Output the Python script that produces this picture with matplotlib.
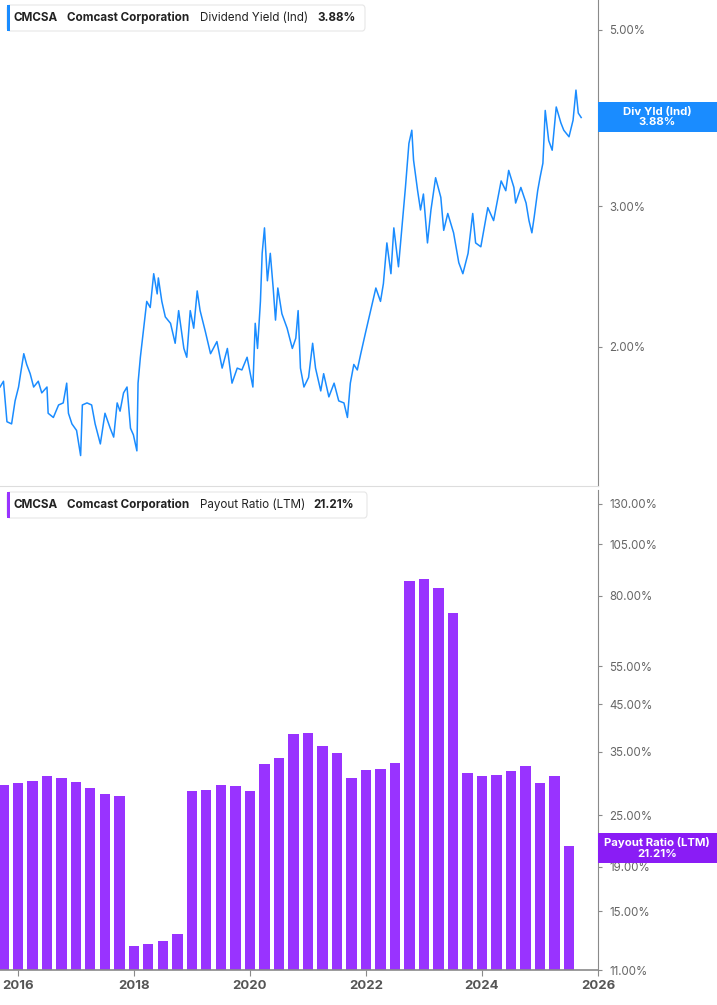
import matplotlib
matplotlib.use("Agg")
import matplotlib.pyplot as plt
from matplotlib.patches import FancyBboxPatch, Rectangle
import pandas as pd

plt.rcParams["font.family"] = "Inter"

# Dividend yield (%) — decimal year / value
yield_dates = [2015.69, 2015.75, 2015.81, 2015.89, 2015.95, 2016.01, 2016.05, 2016.10, 2016.15, 2016.21,
               2016.27, 2016.35, 2016.41, 2016.50, 2016.52, 2016.61, 2016.70, 2016.78, 2016.84, 2016.87,
               2016.93, 2017.01, 2017.08, 2017.11, 2017.19, 2017.27, 2017.33, 2017.42, 2017.50, 2017.59,
               2017.65, 2017.71, 2017.76, 2017.82, 2017.88, 2017.94, 2017.99, 2018.05, 2018.07, 2018.11,
               2018.16, 2018.22, 2018.28, 2018.34, 2018.40, 2018.42, 2018.48, 2018.54, 2018.63, 2018.71,
               2018.77, 2018.86, 2018.91, 2018.97, 2019.03, 2019.09, 2019.14, 2019.23, 2019.32, 2019.43,
               2019.52, 2019.61, 2019.69, 2019.78, 2019.86, 2019.95, 2020.05, 2020.09, 2020.13, 2020.18,
               2020.21, 2020.25, 2020.30, 2020.35, 2020.40, 2020.44, 2020.48, 2020.55, 2020.64, 2020.73,
               2020.79, 2020.83, 2020.87, 2020.93, 2021.01, 2021.08, 2021.13, 2021.22, 2021.27, 2021.36,
               2021.45, 2021.53, 2021.62, 2021.68, 2021.73, 2021.79, 2021.85, 2021.91, 2021.99, 2022.08,
               2022.17, 2022.25, 2022.30, 2022.36, 2022.43, 2022.48, 2022.56, 2022.63, 2022.68, 2022.74,
               2022.79, 2022.82, 2022.89, 2022.94, 2022.99, 2023.06, 2023.12, 2023.20, 2023.29, 2023.34,
               2023.41, 2023.51, 2023.60, 2023.67, 2023.76, 2023.84, 2023.89, 2023.98, 2024.10, 2024.20,
               2024.33, 2024.41, 2024.46, 2024.55, 2024.58, 2024.67, 2024.76, 2024.81, 2024.86, 2024.90,
               2024.96, 2025.00, 2025.05, 2025.09, 2025.15, 2025.21, 2025.28, 2025.36, 2025.41, 2025.50,
               2025.57, 2025.62, 2025.66, 2025.71]
yield_values = [1.78, 1.81, 1.61, 1.60, 1.71, 1.78, 1.86, 1.96, 1.90, 1.85,
                1.78, 1.81, 1.75, 1.78, 1.65, 1.63, 1.69, 1.70, 1.80, 1.65,
                1.60, 1.57, 1.46, 1.69, 1.70, 1.69, 1.60, 1.51, 1.65, 1.58,
                1.54, 1.70, 1.66, 1.75, 1.78, 1.58, 1.55, 1.48, 1.80, 1.94,
                2.09, 2.28, 2.24, 2.47, 2.33, 2.44, 2.28, 2.18, 2.14, 2.02,
                2.22, 1.99, 1.94, 2.22, 2.11, 2.35, 2.22, 2.09, 1.96, 2.03,
                1.88, 1.99, 1.80, 1.88, 1.87, 1.94, 1.78, 2.14, 1.99, 2.28,
                2.62, 2.82, 2.42, 2.62, 2.37, 2.16, 2.37, 2.20, 2.11, 1.99,
                2.05, 2.22, 1.88, 1.78, 1.83, 2.02, 1.88, 1.76, 1.85, 1.73,
                1.80, 1.71, 1.70, 1.63, 1.80, 1.90, 1.87, 1.96, 2.08, 2.22,
                2.37, 2.28, 2.40, 2.70, 2.47, 2.82, 2.52, 2.88, 3.17, 3.60,
                3.74, 3.43, 3.14, 2.97, 3.11, 2.70, 2.97, 3.26, 3.08, 2.80,
                2.94, 2.78, 2.55, 2.47, 2.62, 2.94, 2.70, 2.67, 2.99, 2.88,
                3.23, 3.14, 3.33, 3.17, 3.03, 3.17, 3.03, 2.88, 2.78, 2.91,
                3.14, 3.26, 3.40, 3.96, 3.63, 3.53, 4.00, 3.82, 3.74, 3.67,
                3.85, 4.20, 3.93, 3.88]

# Payout ratio (LTM, %) quarterly, 2015Q3 .. 2025Q2
quarters = pd.period_range("2015Q3", "2025Q2", freq="Q")
payout_values = [29.3, 29.6, 29.9, 30.8, 30.4, 29.8, 28.8, 28.0, 27.7,
                 12.5, 12.6, 12.8, 13.3,
                 28.4, 28.5, 29.3, 29.2, 28.4, 32.7, 33.9, 38.5, 38.6, 36.0, 34.8,
                 30.5, 31.8, 31.9, 33.0, 86.3, 87.4, 83.4, 72.9,
                 31.2, 30.8, 30.9, 31.6, 32.4, 29.6, 30.7, 21.2]

top_ticks = [2.0, 3.0, 4.0, 5.0]
bot_ticks = [11, 15, 19, 25, 35, 45, 55, 80, 105, 130]
year_ticks = [2016, 2018, 2020, 2022, 2024, 2026]

BLUE = "#1a8cff"
PURPLE = "#9933ff"
GRAY = "#8a8a8a"
TXT = "#666666"

W, H = 717, 1005
fig = plt.figure(figsize=(W / 100, H / 100), dpi=100)
fig.patch.set_facecolor("white")

def ax_rect(x0, y0, x1, y1):
    return [x0 / W, 1 - y1 / H, (x1 - x0) / W, (y1 - y0) / H]

ax1 = fig.add_axes(ax_rect(0, 0, 598, 486))
ax2 = fig.add_axes(ax_rect(0, 490, 598, 970))

xmin, xmax = 2015.69, 2026.0

ax1.plot(yield_dates, yield_values, color=BLUE, lw=1.1)
ax1.set_yscale("log")
ax1.set_ylim(1.337, 5.45)
ax1.set_xlim(xmin, xmax)

bar_x = [q.end_time.year + (q.end_time.dayofyear) / 365.25 for q in quarters]
ax2.bar(bar_x, payout_values, width=0.18, color=PURPLE, bottom=0)
ax2.set_yscale("log")
ax2.set_ylim(11, 140)
ax2.set_xlim(xmin, xmax)

for ax, ticks in ((ax1, top_ticks), (ax2, bot_ticks)):
    ax.yaxis.tick_right()
    ax.set_yticks(ticks)
    ax.set_yticklabels(["{:.2f}%".format(t) for t in ticks])
    ax.yaxis.set_minor_locator(matplotlib.ticker.NullLocator())
    ax.tick_params(axis="y", colors=GRAY, labelcolor=TXT, labelsize=8.3, length=3, pad=5)
    for s in ("top", "left"):
        ax.spines[s].set_visible(False)
    ax.spines["right"].set_color(GRAY)
    ax.set_facecolor("white")

ax1.spines["bottom"].set_color("#dddddd")
ax1.set_xticks([])
ax2.spines["bottom"].set_color(GRAY)
ax2.spines["bottom"].set_linewidth(1.2)
ax2.set_xticks(year_ticks)
ax2.set_xticklabels([str(y) for y in year_ticks])
ax2.tick_params(axis="x", colors=GRAY, labelcolor="#555555", labelsize=9.5, length=4, pad=3)
for lab in ax2.get_xticklabels():
    lab.set_fontweight("bold")

def header(y_top, color, parts, box_w):
    fig.patches.append(FancyBboxPatch((7 / W, 1 - (y_top + 26) / H), box_w / W, 26 / H,
                                      boxstyle="round,pad=0,rounding_size=0.004",
                                      transform=fig.transFigure, fc="white", ec="#e6e6e6", lw=0.8))
    fig.patches.append(Rectangle((7 / W, 1 - (y_top + 26) / H), 3 / W, 26 / H,
                                 transform=fig.transFigure, fc=color, ec="none"))
    for x, txt, bold in parts:
        fig.text(x / W, 1 - (y_top + 13) / H, txt, fontsize=8.4, color="#222222",
                 fontweight="bold" if bold else "normal", va="center", ha="left")

header(5, BLUE, [(14, "CMCSA", True), (67, "Comcast Corporation", True),
                 (200, "Dividend Yield (Ind)", False), (317, "3.88%", True)], 358)
header(492, PURPLE, [(14, "CMCSA", True), (67, "Comcast Corporation", True),
                     (200, "Payout Ratio (LTM)", False), (313, "21.21%", True)], 360)

def tag(y0, y1, color, text):
    fig.patches.append(Rectangle((598 / W, 1 - y1 / H), 119 / W, (y1 - y0) / H,
                                 transform=fig.transFigure, fc=color, ec="none", zorder=5))
    fig.text(657 / W, 1 - (y0 + y1) / 2 / H, text, fontsize=8.2, color="white", fontweight="bold",
             ha="center", va="center", linespacing=1.1, zorder=6)

tag(102, 132, BLUE, "Div Yld (Ind)\n3.88%")
tag(833, 863, "#8a1cf5", "Payout Ratio (LTM)\n21.21%")

fig.savefig("out.png", dpi=100, facecolor="white")
